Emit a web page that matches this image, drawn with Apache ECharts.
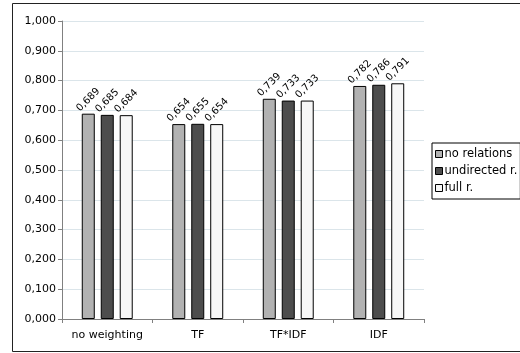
<!DOCTYPE html>
<html>
<head>
<meta charset="utf-8">
<script src="https://cdn.jsdelivr.net/npm/echarts@6/dist/echarts.min.js"></script>
<style>
  html, body { margin: 0; padding: 0; background: #fff; }
  #chart { width: 520px; height: 353px; }
</style>
</head>
<body>
<div id="chart"></div>
<script>
// Weighting schemes on the x axis
const categories = ['no weighting', 'TF', 'TF*IDF', 'IDF'];

// Scores per relation variant
const seriesNames = ['no relations', 'undirected r.', 'full r.'];
const noRelations = [0.689, 0.654, 0.739, 0.782];
const undirectedR = [0.685, 0.655, 0.733, 0.786];
const fullR = [0.684, 0.654, 0.733, 0.791];

const yTicks = { min: 0, max: 1, interval: 0.1 };

const FONT = 'DejaVu Sans, Verdana, sans-serif';
const fmt = v => v.toFixed(3).replace('.', ',');

const fills = ['#b2b2b2', '#4d4d4d', '#f7f7f7'];
const values = [noRelations, undirectedR, fullR];

const chart = echarts.init(document.getElementById('chart'), null, { renderer: 'canvas' });

chart.setOption({
  animation: false,
  backgroundColor: '#ffffff',
  graphic: [{
    type: 'rect',
    shape: { x: 12.5, y: 3.5, width: 520, height: 348 },
    style: { fill: 'none', stroke: '#222', lineWidth: 1 },
    z: 0
  }],
  grid: { left: 62, right: 96, top: 21, bottom: 34 },
  legend: {
    orient: 'vertical',
    left: 432,
    top: 143,
    padding: [5, 3, 5, 3],
    itemGap: 5,
    itemWidth: 7,
    itemHeight: 7,
    borderColor: '#000',
    borderWidth: 1,
    borderRadius: 0,
    textStyle: { fontFamily: FONT, fontSize: 11.5, color: '#000', padding: [0, 0, 0, -3] },
    data: seriesNames.map((n, i) => ({
      name: n,
      icon: 'rect',
      itemStyle: { color: fills[i], borderColor: '#000', borderWidth: 1 }
    }))
  },
  xAxis: {
    type: 'category',
    data: categories,
    axisLine: { lineStyle: { color: '#808080', width: 1 } },
    axisTick: { show: true, length: 4, lineStyle: { color: '#808080' } },
    axisLabel: { interval: 0, fontFamily: FONT, fontSize: 11, color: '#000', margin: 11 }
  },
  yAxis: {
    type: 'value',
    min: yTicks.min,
    max: yTicks.max,
    interval: yTicks.interval,
    axisLine: { show: true, lineStyle: { color: '#808080', width: 1 } },
    axisTick: { show: true, length: 4, lineStyle: { color: '#808080' } },
    axisLabel: { fontFamily: FONT, fontSize: 11, color: '#000', formatter: v => fmt(v), margin: 6 },
    splitLine: { lineStyle: { color: '#dbe5ea', width: 1 } }
  },
  series: seriesNames.map((name, i) => ({
    name,
    type: 'bar',
    data: values[i],
    barWidth: 13,
    barGap: '46%',
    itemStyle: { color: fills[i], borderColor: '#000', borderWidth: 1 },
    label: {
      show: true,
      position: 'top',
      distance: 14,
      rotate: 45,
      align: 'center',
      verticalAlign: 'middle',
      fontFamily: FONT,
      fontSize: 10,
      color: '#000',
      formatter: p => fmt(p.value)
    }
  }))
});
</script>
</body>
</html>
